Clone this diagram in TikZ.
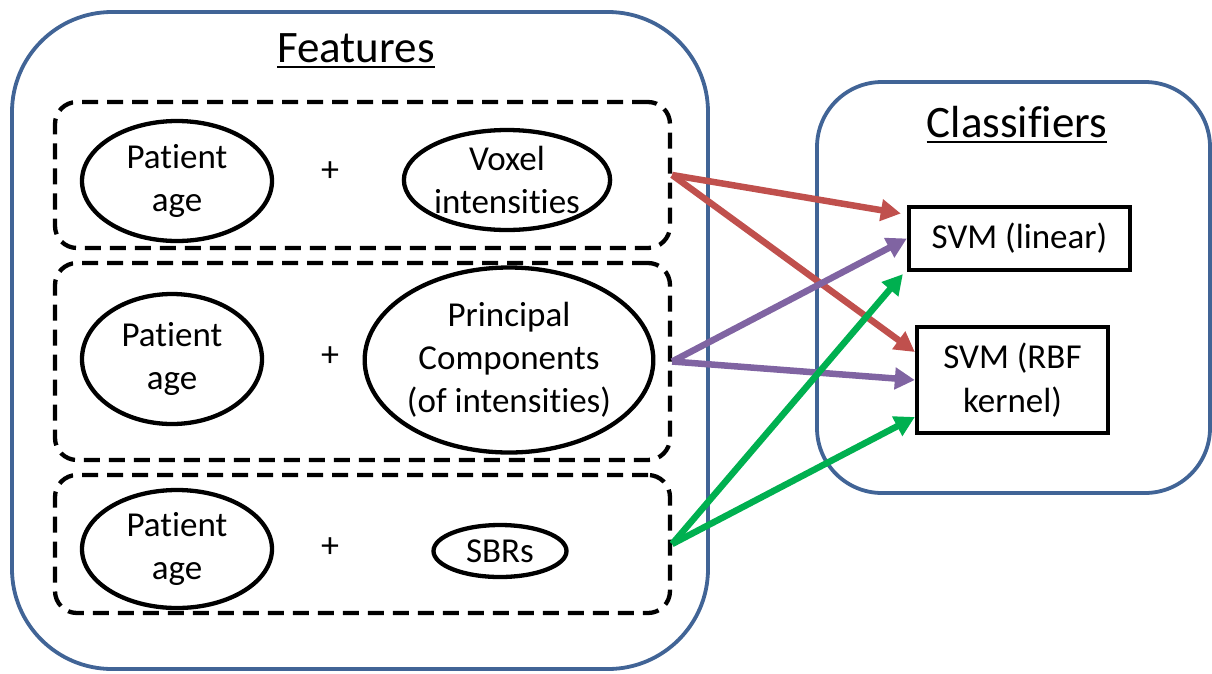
\documentclass[tikz,border=0pt]{standalone}
\usepackage{fontspec}
\setmainfont{Carlito}[RawFeature={-liga;-clig;-calt;-dlig}]
\usetikzlibrary{arrows.meta,shapes.geometric}
\definecolor{frameblue}{RGB}{65,100,150}
\definecolor{arrred}{RGB}{192,80,77}
\definecolor{arrpurple}{RGB}{128,100,162}
\definecolor{arrgreen}{RGB}{0,176,80}
\begin{document}
\begin{tikzpicture}[x=1pt,y=-1pt,
  groupbox/.style={draw=frameblue,line width=3.8pt,rounded corners=#1},
  featrow/.style={draw,line width=4.3pt,dash pattern=on 16pt off 9pt,rounded corners=22pt,inner sep=0pt},
  feat/.style={draw,ellipse,line width=4.3pt,inner sep=0pt,align=center,
    font=\fontsize{35}{43}\selectfont},
  plus/.style={font=\fontsize{36}{43}\selectfont},
  clf/.style={draw,line width=4.3pt,inner sep=0pt,align=center,
    font=\fontsize{35}{44}\selectfont},
  title/.style={inner sep=0pt,anchor=base,font=\fontsize{45}{54}\selectfont},
  link/.style={line width=6.5pt,-{Triangle[length=20pt,width=21pt]}}]
\useasboundingbox (0,0) rectangle (1212,673);

% outer group frames
\draw[groupbox=100pt] (12,12) rectangle (708,669);
\draw[groupbox=65pt] (817,82) rectangle (1210,493);

% group titles, underlined
\node[title] (tfeat) at (356,62) {Features};
\draw[line width=2.8pt] ([yshift=-5pt]tfeat.base west) -- ([yshift=-5pt]tfeat.base east);
\node[title] (tclf) at (1017,137) {Classifiers};
\draw[line width=2.8pt] ([yshift=-5pt]tclf.base west) -- ([yshift=-5pt]tclf.base east);

% feature combinations
\node[featrow,minimum width=615pt,minimum height=146pt] (r1) at (362.5,175) {};
\node[featrow,minimum width=615pt,minimum height=197pt] (r2) at (362.5,361.5) {};
\node[featrow,minimum width=615pt,minimum height=138pt] (r3) at (362.5,544) {};

\node[feat,minimum width=190pt,minimum height=120pt] (age1) at (177,181) {Patient\\age};
\node[plus] (p1) at (330,172) {+};
\node[feat,minimum width=195pt,minimum height=100pt] (vox) at (507,180) {Voxel\\intensities};

\node[feat,minimum width=180pt,minimum height=130pt] (age2) at (172,359) {Patient\\age};
\node[plus] (p2) at (330,357) {+};
\node[feat,minimum width=278pt,minimum height=185pt] (pca) at (509,360) {Principal\\Components\\(of intensities)};

\node[feat,minimum width=190pt,minimum height=118pt] (age3) at (177,549) {Patient\\age};
\node[plus] (p3) at (330,548) {+};
\node[feat,minimum width=133pt,minimum height=52pt] (sbr) at (500,551) {SBRs};

% classifiers
\node[clf,minimum width=221pt,minimum height=63pt] (lin) at (1019.5,238.5) {SVM (linear)};
\node[clf,minimum width=191pt,minimum height=106pt] (rbf) at (1012.5,380) {SVM (RBF\\kernel)};

% feature sets feeding each classifier
\draw[link,arrred] (r1.east) -- ([xshift=-6pt,yshift=25pt]lin.west);
\draw[link,arrred] (r1.east) -- ([yshift=28pt]rbf.west);
\draw[link,arrpurple] (r2.east) -- (lin.west);
\draw[link,arrpurple] (r2.east) -- (rbf.west);
\draw[link,arrgreen] (r3.east) -- ([xshift=-4pt,yshift=-2pt]lin.south west);
\draw[link,arrgreen] (r3.east) -- ([yshift=-37pt]rbf.west);
\end{tikzpicture}
\end{document}
